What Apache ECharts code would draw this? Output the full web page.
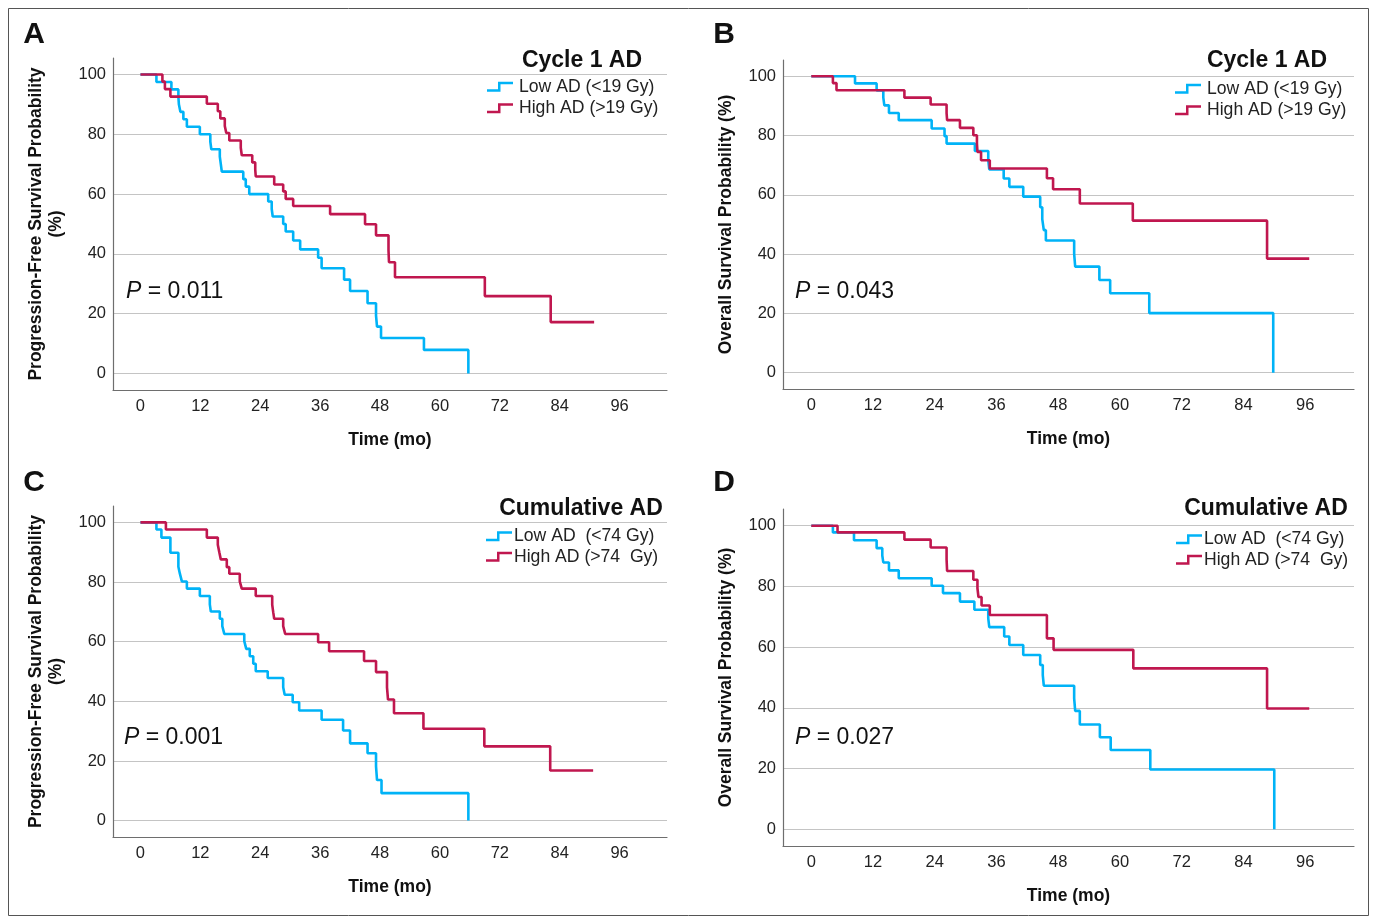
<!DOCTYPE html>
<html>
<head>
<meta charset="utf-8">
<title>AD survival curves</title>
<script src="https://cdn.jsdelivr.net/npm/echarts@6.0.0/dist/echarts.min.js"></script>
<style>
html, body { margin: 0; padding: 0; background: #fff; }
#chart { width: 1377px; height: 924px; }
</style>
</head>
<body>
<div id="chart"></div>
<script>
// axis ticks
var timeTicks = [0, 12, 24, 36, 48, 60, 72, 84, 96];
var probTicks = [0, 20, 40, 60, 80, 100];

// A - PFS, cycle 1 AD
var aLowT  = [0, 3.2, 6.2, 7.6, 7.7, 8.0, 8.6, 9.3, 11.9, 14.0, 14.2, 15.9, 16.1, 16.3, 20.6, 21.1, 21.8, 25.6, 26.3, 26.5, 28.6, 29.1, 30.6, 32.0, 35.6, 36.3, 40.8, 42.0, 45.5, 47.2, 47.4, 48.2, 56.8, 65.7];
var aLowS  = [100, 97.5, 95, 92.5, 90, 87.5, 85, 82.5, 80, 77.5, 75, 72.5, 70, 67.5, 65, 62.5, 60, 57.5, 55, 52.5, 50, 47.5, 44.5, 41.5, 38.7, 35.2, 31.4, 27.6, 23.5, 19.4, 15.7, 11.9, 7.9, 0];
var aHighT = [0, 4.4, 4.9, 6.0, 13.3, 15.5, 16.0, 16.9, 17.2, 17.8, 20.1, 20.3, 22.4, 23.0, 23.1, 26.8, 28.6, 29.1, 30.6, 38.0, 45.0, 47.2, 49.7, 49.8, 51.0, 69.0, 82.2, 90.9];
var aHighS = [100, 97.6, 95.1, 92.6, 90.2, 87.7, 85.3, 82.8, 80.4, 77.9, 75.5, 73.0, 70.6, 68.2, 65.9, 63.2, 60.9, 58.4, 56.0, 53.3, 49.9, 46.2, 41.2, 37.2, 32.2, 25.9, 17.2, 17.2];

// B - OS, cycle 1 AD
var bLowT  = [0, 8.5, 12.7, 14.0, 14.2, 15.1, 17.0, 23.4, 25.9, 26.3, 31.8, 34.4, 34.6, 37.4, 38.5, 41.2, 44.5, 44.9, 45.2, 45.6, 51.1, 51.3, 56.0, 58.1, 65.7, 89.8];
var bLowS  = [100, 97.6, 95.2, 92.8, 90.2, 87.6, 85.2, 82.4, 79.8, 77.3, 74.8, 71.7, 68.6, 65.5, 62.7, 59.4, 55.8, 51.8, 48.1, 44.6, 40.1, 35.8, 31.3, 26.8, 20.1, 0];
var bHighT = [0, 4.2, 4.9, 18.1, 23.2, 26.3, 26.4, 28.9, 31.5, 32.2, 32.3, 33.0, 34.7, 45.8, 47.0, 52.2, 62.5, 88.6, 96.8];
var bHighS = [100, 97.7, 95.3, 92.8, 90.5, 87.6, 85.2, 82.6, 80.1, 77.3, 74.5, 71.7, 68.9, 65.6, 61.9, 57.1, 51.3, 38.5, 38.5];

// C - PFS, cumulative AD
var cLowT  = [0, 3.2, 4.2, 6.0, 7.6, 7.9, 8.3, 9.3, 11.9, 13.9, 14.1, 15.9, 16.4, 16.8, 20.8, 21.2, 21.9, 22.6, 23.1, 25.5, 28.6, 28.9, 30.5, 31.8, 36.3, 40.6, 42.0, 45.5, 47.2, 47.4, 48.3, 65.7];
var cLowS  = [100, 97.6, 94.9, 89.8, 85.1, 82.8, 80.2, 77.8, 75.3, 72.5, 70.1, 67.7, 65.2, 62.6, 60.2, 57.6, 55.1, 52.6, 50.1, 47.8, 44.7, 42.2, 39.7, 36.9, 33.8, 30.2, 25.9, 22.6, 18.2, 13.6, 9.2, 0];
var cHighT = [0, 5.1, 13.3, 15.5, 15.8, 16.1, 17.3, 17.8, 19.9, 20.3, 23.1, 26.4, 26.6, 26.8, 28.6, 29.0, 35.6, 37.8, 44.8, 47.2, 49.4, 49.6, 50.8, 56.7, 68.9, 82.1, 90.7];
var cHighS = [100, 97.6, 94.9, 92.5, 90.0, 87.6, 85.0, 82.8, 80.2, 77.8, 75.3, 72.4, 69.9, 67.7, 65.2, 62.6, 59.8, 56.8, 53.5, 49.8, 44.7, 40.6, 36.0, 30.8, 24.9, 16.8, 16.8];

// D - OS, cumulative AD
var dLowT  = [0, 4.2, 8.3, 12.7, 13.8, 14.0, 15.1, 17.0, 23.4, 25.6, 28.9, 31.7, 34.4, 34.6, 37.5, 38.5, 41.2, 44.5, 45.0, 45.2, 51.1, 51.3, 52.2, 56.1, 58.2, 65.9, 90.0];
var dLowS  = [100, 97.8, 95.2, 92.6, 90.2, 87.9, 85.3, 82.7, 80.2, 77.8, 75.0, 72.3, 69.5, 66.6, 63.5, 60.7, 57.4, 54.1, 50.8, 47.3, 43.1, 39.0, 34.5, 30.3, 26.1, 19.7, 0];
var dHighT = [0, 5.1, 18.1, 23.2, 26.3, 26.4, 31.5, 32.3, 32.5, 33.1, 34.7, 45.8, 47.1, 62.6, 88.6, 96.8];
var dHighS = [100, 97.8, 95.4, 92.8, 88.9, 85.1, 82.2, 79.4, 76.5, 73.7, 70.6, 62.9, 59.1, 53.0, 39.8, 39.8];

var panelLetters = ['A', 'B', 'C', 'D'];
var panelTitles  = ['Cycle 1 AD', 'Cycle 1 AD', 'Cumulative AD', 'Cumulative AD'];
var pValues      = ['0.011', '0.043', '0.001', '0.027'];
var lowNames     = ['Low AD (<19 Gy)', 'Low AD (<19 Gy) ', 'Low AD  (<74 Gy)', 'Low AD  (<74 Gy) '];
var highNames    = ['High AD (>19 Gy)', 'High AD (>19 Gy) ', 'High AD (>74  Gy)', 'High AD (>74  Gy) '];
var yTitles      = ['Progression-Free Survival Probability\n(%)', 'Overall Survival Probability (%)',
                    'Progression-Free Survival Probability\n(%)', 'Overall Survival Probability (%)'];

var BLUE = '#00b3f7';
var RED = '#c0174f';
var FONT = 'Liberation Sans, Arial, sans-serif';
var stepIcon = 'path://M0,7.5 L11,7.5 L11,0 L26,0 L26,2.5 L13.5,2.5 L13.5,10 L0,10 Z';

function pairs(t, s) {
    return t.map(function (v, i) { return [v, s[i]]; });
}

var lows  = [pairs(aLowT, aLowS), pairs(bLowT, bLowS), pairs(cLowT, cLowS), pairs(dLowT, dLowS)];
var highs = [pairs(aHighT, aHighS), pairs(bHighT, bHighS), pairs(cHighT, cHighS), pairs(dHighT, dHighS)];

// plot boxes (left, top, width, height) for A..D
var boxes = [
    [113, 58, 554, 332],
    [783, 60, 571, 329],
    [113, 506, 554, 331],
    [783, 509, 571, 337]
];
var titlePos  = [[582, 49], [1267, 49], [581, 497], [1266, 497]];
var legendPos = [[487, 76], [1175, 78], [486, 526], [1176, 529]];
var letterPos = [[34, 35], [724, 35], [34, 483], [724, 483]];
var pPos      = [[126, 292], [795, 292], [124, 738], [795, 738]];

var option = {
    animation: false,
    backgroundColor: '#fff',
    textStyle: { fontFamily: FONT },
    grid: [], xAxis: [], yAxis: [], series: [], legend: [], title: [], graphic: []
};

option.graphic.push({
    type: 'rect', shape: { x: 8.5, y: 8.5, width: 1360, height: 907 },
    style: { fill: 'none', stroke: '#555', lineWidth: 1 }, silent: true
});

for (var i = 0; i < 4; i++) {
    var b = boxes[i];
    option.grid.push({ left: b[0], top: b[1], width: b[2], height: b[3], containLabel: false });
    option.xAxis.push({
        type: 'value', gridIndex: i, min: -5.5, max: 105.5,
        name: 'Time (mo)', nameLocation: 'middle', nameGap: 41,
        nameTextStyle: { fontSize: 17.5, fontWeight: 'bold', color: '#111', fontFamily: FONT },
        axisLine: { show: true, onZero: false, lineStyle: { color: '#6e6e6e', width: 1.2 } },
        axisTick: { show: false, customValues: timeTicks },
        axisLabel: { customValues: timeTicks, fontSize: 16.5, color: '#222', margin: 8, fontFamily: FONT },
        splitLine: { show: false }
    });
    option.yAxis.push({
        type: 'value', gridIndex: i, min: -5.5, max: 105.5,
        name: yTitles[i], nameLocation: 'middle', nameRotate: 90, nameGap: 47,
        nameTextStyle: { fontSize: 17.5, fontWeight: 'bold', color: '#111', lineHeight: 20, fontFamily: FONT },
        axisLine: { show: true, onZero: false, lineStyle: { color: '#6e6e6e', width: 1.2 } },
        axisTick: { show: false, customValues: probTicks },
        axisLabel: { customValues: probTicks, fontSize: 16.5, color: '#222', margin: 7, fontFamily: FONT },
        splitLine: { show: true, lineStyle: { color: '#c4c4c4', width: 1.2 } }
    });
    option.series.push({
        name: lowNames[i], type: 'line', step: 'end', xAxisIndex: i, yAxisIndex: i,
        data: lows[i], symbol: 'none', color: BLUE,
        lineStyle: { color: BLUE, width: 2.6 }, z: 3
    });
    option.series.push({
        name: highNames[i], type: 'line', step: 'end', xAxisIndex: i, yAxisIndex: i,
        data: highs[i], symbol: 'none', color: RED,
        lineStyle: { color: RED, width: 2.6 }, z: 4
    });
    option.legend.push({
        data: [lowNames[i], highNames[i]],
        orient: 'vertical', left: legendPos[i][0], top: legendPos[i][1],
        icon: stepIcon, itemWidth: 26, itemHeight: 10, itemGap: 0,
        padding: 0, selectedMode: false,
        textStyle: { fontSize: 17.6, color: '#222', lineHeight: (i < 2 ? 21.5 : 20.5), fontFamily: FONT, padding: [0, 0, 0, (i < 2 ? 1 : -3)] }
    });
    option.title.push({
        text: panelTitles[i], left: titlePos[i][0], top: titlePos[i][1], textAlign: 'center', padding: 0,
        textStyle: { fontSize: 23, fontWeight: 'bold', color: '#111', fontFamily: FONT }
    });
    option.graphic.push({
        type: 'text', x: letterPos[i][0], y: letterPos[i][1], silent: true,
        style: { text: panelLetters[i], font: 'bold 30px ' + FONT, fill: '#111', align: 'center', verticalAlign: 'middle' }
    });
    option.graphic.push({
        type: 'text', x: pPos[i][0], y: pPos[i][1], silent: true, z: 10,
        style: {
            text: '{i|P} = ' + pValues[i], verticalAlign: 'middle', align: 'left',
            fill: '#111', font: '23px ' + FONT,
            rich: { i: { fontStyle: 'italic', fontSize: 23, fontFamily: FONT, fill: '#111' } }
        }
    });
}

var myChart = echarts.init(document.getElementById('chart'));
myChart.setOption(option);
</script>
</body>
</html>
